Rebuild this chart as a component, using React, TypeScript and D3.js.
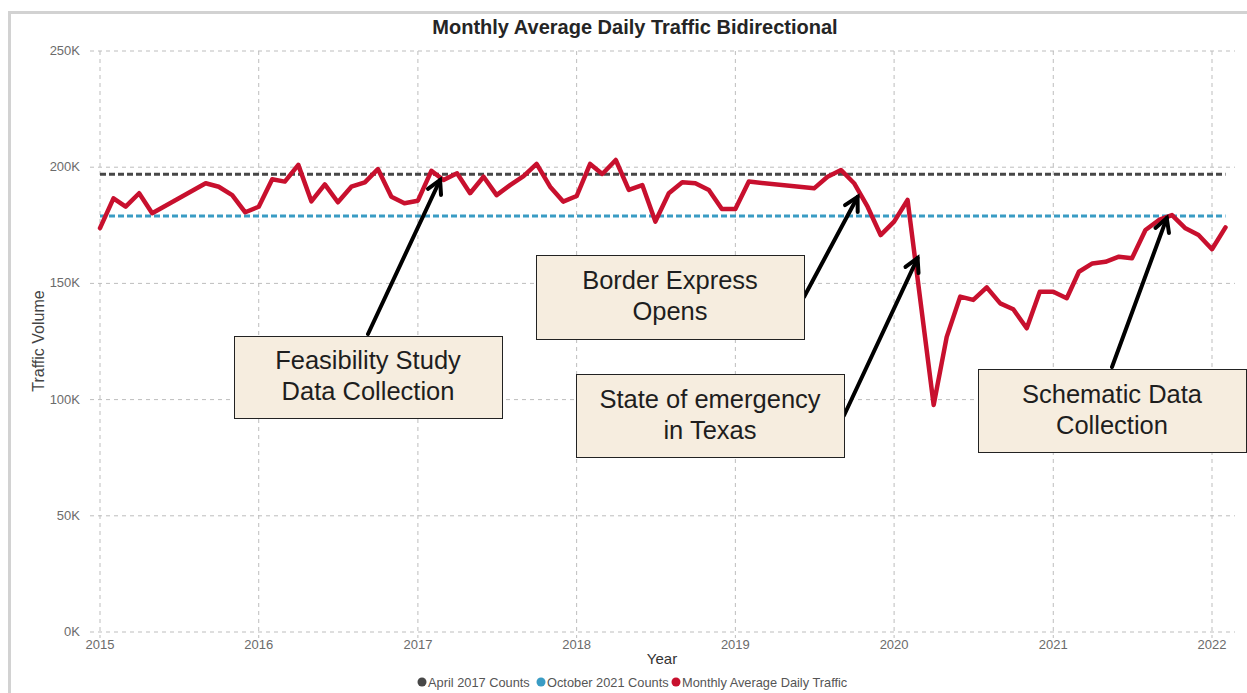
import React from "react";
import * as d3 from "d3";

// monthly average daily traffic, in thousands (gaps = months with no count)
const months = [
  "2015-01", "2015-02", "2015-03", "2015-04", "2015-05", "2015-09", "2015-10", "2015-11", "2015-12",
  "2016-01", "2016-02", "2016-03", "2016-04", "2016-05", "2016-06", "2016-07", "2016-08", "2016-09", "2016-10", "2016-11", "2016-12",
  "2017-01", "2017-02", "2017-03", "2017-04", "2017-05", "2017-06", "2017-07", "2017-08", "2017-09", "2017-10", "2017-11", "2017-12",
  "2018-01", "2018-02", "2018-03", "2018-04", "2018-05", "2018-06", "2018-07", "2018-08", "2018-09", "2018-10", "2018-11", "2018-12",
  "2019-01", "2019-02", "2019-07", "2019-08", "2019-09", "2019-10", "2019-11", "2019-12",
  "2020-01", "2020-02", "2020-04", "2020-05", "2020-06", "2020-07", "2020-08", "2020-09", "2020-10", "2020-11", "2020-12",
  "2021-01", "2021-02", "2021-03", "2021-04", "2021-05", "2021-06", "2021-07", "2021-08", "2021-09", "2021-10", "2021-11", "2021-12",
  "2022-01", "2022-02",
];
const adt = [
  173.8, 186.6, 183.0, 188.8, 180.2, 193.1, 191.6, 188.0, 180.6,
  183.0, 194.8, 193.8, 201.0, 185.3, 192.6, 184.9, 191.6, 193.5, 199.2, 187.3, 184.5,
  185.6, 198.4, 194.5, 197.4, 188.8, 195.9, 188.0, 192.3, 196.2, 201.4, 191.6, 185.2,
  187.6, 201.4, 197.1, 203.1, 190.2, 192.3, 176.6, 188.8, 193.5, 193.1, 190.2, 182.0,
  182.0, 193.8, 190.9, 195.9, 198.8, 193.1, 183.0, 170.8,
  176.6, 185.9, 97.7, 127.0, 144.3, 142.9, 148.3, 141.4, 138.9, 130.7, 146.4,
  146.4, 143.6, 155.0, 158.6, 159.3, 161.5, 160.8, 173.0, 177.3, 179.4, 173.7, 170.8,
  164.7, 174.1,
];

const april2017Count = 197;
const october2021Count = 179;

const yTicks = [0, 50, 100, 150, 200, 250];
const xTickYears = [2015, 2016, 2017, 2018, 2019, 2020, 2021, 2022];

const noteTexts = [
  ["Feasibility Study", "Data Collection"],
  ["Border Express", "Opens"],
  ["State of emergency", "in Texas"],
  ["Schematic Data", "Collection"],
];
// where each arrow points (date, thousands)
const noteTargets: [string, number][] = [
  ["2017-02-21", 194.5],
  ["2019-10-09", 187.2],
  ["2020-02-24", 160.9],
  ["2021-09-19", 178.1],
];
// box placement (px) and arrow tail side
const noteBoxes = [
  { x: 234, y: 336, w: 268, h: 82, tail: "top" },
  { x: 536, y: 255, w: 268, h: 84, tail: "right" },
  { x: 576, y: 374, w: 268, h: 83, tail: "right" },
  { x: 978, y: 369, w: 268, h: 83, tail: "top" },
];

const legendItems = [
  { label: "April 2017 Counts", color: "#474747", x: 422 },
  { label: "October 2021 Counts", color: "#3a9cc4", x: 541 },
  { label: "Monthly Average Daily Traffic", color: "#c8102e", x: 676 },
];

const W = 1247;
const H = 693;
const FONT = "'Liberation Sans', Arial, sans-serif";
const NARROW = "'Liberation Sans Narrow', 'Liberation Sans', Arial, sans-serif";

const parse = d3.timeParse("%Y-%m");
const parseDay = d3.timeParse("%Y-%m-%d");

export default function App() {
  const x = d3
    .scaleTime()
    .domain([new Date(2015, 0, 1), new Date(2022, 0, 1)])
    .range([100, 1212]);
  const y = d3.scaleLinear().domain([0, 250]).range([632, 51]);

  const data = months.map((m, i) => ({ date: parse(m) as Date, v: adt[i] }));
  const line = d3
    .line<{ date: Date; v: number }>()
    .x((d) => x(d.date))
    .y((d) => y(d.v));

  const first = data[0].date;
  const last = data[data.length - 1].date;
  const gridLeft = 90;
  const gridRight = 1235;

  const arrows = noteTargets.map(([ds, v], i) => {
    const b = noteBoxes[i];
    const tx = x(parseDay(ds) as Date);
    const ty = y(v);
    const sx = b.tail === "top" ? b.x + b.w / 2 : b.x + b.w;
    const sy = b.tail === "top" ? b.y - 2 : b.y + b.h / 2;
    const ang = Math.atan2(ty - sy, tx - sx);
    const len = 15;
    const spread = 0.5;
    const h1 = [tx - len * Math.cos(ang - spread), ty - len * Math.sin(ang - spread)];
    const h2 = [tx - len * Math.cos(ang + spread), ty - len * Math.sin(ang + spread)];
    return { sx, sy, tx, ty, h1, h2 };
  });

  return (
    <svg
      width={W}
      height={H}
      style={{ position: "absolute", left: 0, top: 0, background: "#fff" }}
      fontFamily={FONT}
    >
      {/* card frame */}
      <rect x={9.5} y={12.5} width={1260} height={700} fill="none" stroke="#d2d2d2" strokeWidth={3} />

      <text x={635} y={34} textAnchor="middle" fontSize={20} fontWeight="bold" fill="#252525">
        Monthly Average Daily Traffic Bidirectional
      </text>

      {/* grid */}
      <g stroke="#bdbdbd" strokeWidth={1} strokeDasharray="4,4" fill="none">
        {yTicks.map((t) => (
          <line key={"h" + t} x1={gridLeft} x2={gridRight} y1={y(t)} y2={y(t)} />
        ))}
        {xTickYears.map((yr) => {
          const px = x(new Date(yr, 0, 1));
          return <line key={"v" + yr} x1={px} x2={px} y1={y(250)} y2={y(0) + 6} />;
        })}
      </g>

      {/* y tick labels */}
      <g fontFamily={NARROW} fontSize={13} fill="#6b6b6b" textAnchor="end">
        {yTicks.map((t) => (
          <text key={t} x={80} y={y(t) + 4}>
            {t}K
          </text>
        ))}
      </g>
      {/* x tick labels */}
      <g fontFamily={NARROW} fontSize={13} fill="#6b6b6b" textAnchor="middle">
        {xTickYears.map((yr) => (
          <text key={yr} x={x(new Date(yr, 0, 1))} y={649}>
            {yr}
          </text>
        ))}
      </g>

      <text
        transform={`translate(44,341) rotate(-90)`}
        textAnchor="middle"
        fontFamily={NARROW}
        fontSize={16}
        fill="#444"
      >
        Traffic Volume
      </text>
      <text x={662} y={664} textAnchor="middle" fontFamily={NARROW} fontSize={15} fill="#333">
        Year
      </text>

      {/* reference counts */}
      <line
        x1={x(first)}
        x2={x(last)}
        y1={y(april2017Count)}
        y2={y(april2017Count)}
        stroke="#474747"
        strokeWidth={3}
        strokeDasharray="6,3"
      />
      <line
        x1={x(first)}
        x2={x(last)}
        y1={y(october2021Count)}
        y2={y(october2021Count)}
        stroke="#3a9cc4"
        strokeWidth={3}
        strokeDasharray="6,3"
      />

      {/* traffic line */}
      <path
        d={line(data) || ""}
        fill="none"
        stroke="#c8102e"
        strokeWidth={4.5}
        strokeLinejoin="round"
        strokeLinecap="round"
      />

      {/* annotations */}
      {arrows.map((a, i) => (
        <g key={"a" + i} stroke="#000" strokeWidth={4} strokeLinecap="round" fill="none">
          <line x1={a.sx} y1={a.sy} x2={a.tx} y2={a.ty} />
          <polyline
            points={`${a.h1[0]},${a.h1[1]} ${a.tx},${a.ty} ${a.h2[0]},${a.h2[1]}`}
            strokeLinejoin="miter"
          />
        </g>
      ))}
      {noteBoxes.map((b, i) => (
        <g key={"b" + i}>
          <rect x={b.x + 0.5} y={b.y + 0.5} width={b.w} height={b.h} fill="#f6eddf" stroke="#222" strokeWidth={1} />
          {noteTexts[i].map((t, j) => (
            <text
              key={j}
              x={b.x + b.w / 2}
              y={b.y + b.h / 2 - 8 + j * 31}
              textAnchor="middle"
              fontSize={25.5}
              fill="#1e1e1e"
            >
              {t}
            </text>
          ))}
        </g>
      ))}

      {/* legend */}
      <g fontFamily={NARROW} fontSize={12.8} fill="#555">
        {legendItems.map((it) => (
          <g key={it.label}>
            <circle cx={it.x} cy={682} r={4.5} fill={it.color} />
            <text x={it.x + 6} y={686.5}>
              {it.label}
            </text>
          </g>
        ))}
      </g>
    </svg>
  );
}
